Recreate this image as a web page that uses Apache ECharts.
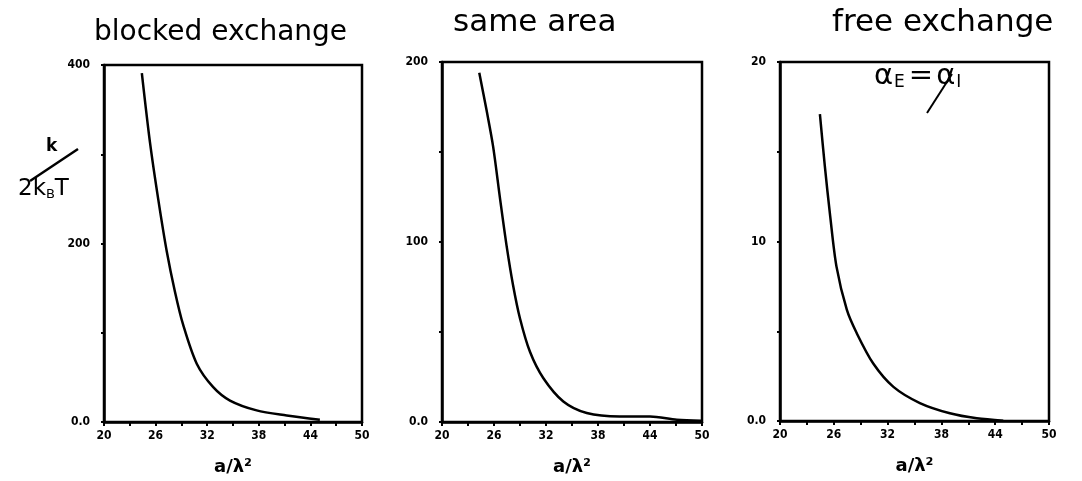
<!DOCTYPE html>
<html>
<head>
    <meta charset="UTF-8">
    <title>Exchange curves</title>
    <script src="https://cdn.jsdelivr.net/npm/echarts@6/dist/echarts.min.js"></script>
    <style>
        body { margin: 0; background: #fff; }
        #chart { width: 1082px; height: 481px; }
    </style>
</head>
<body>
    <div id="chart"></div>
    <script>
        // panel titles
        const panelTitles = ['blocked exchange', 'same area', 'free exchange'];

        // x axis: a/lambda^2
        const xTicks = [20, 23, 26, 29, 32, 35, 38, 41, 44, 47, 50];
        const xLabels = [20, 26, 32, 38, 44, 50];

        // y axis ticks per panel
        const yTicksBlocked = [0, 100, 200, 300, 400];
        const yLabelsBlocked = [0, 200, 400];
        const yTicksSame = [0, 50, 100, 150, 200];
        const yLabelsSame = [0, 100, 200];
        const yTicksFree = [0, 5, 10, 15, 20];
        const yLabelsFree = [0, 10, 20];

        // curves
        const xBlocked = [24.4, 25.35, 26.3, 27.3, 28.25, 29.2, 30.8, 32.7, 34.65, 37.75, 41.25, 45.1];
        const yBlocked = [391, 313, 250, 191, 146, 109, 65, 39, 24, 13, 7.4, 2.5];

        const xSame = [24.3, 25.15, 25.9, 26.7, 27.45, 28.2, 29.0, 30.15, 31.7, 34.0, 36.7, 40.5, 44.0, 47.1, 49.9];
        const ySame = [194, 173, 153, 124, 98, 76, 57.5, 39, 24.3, 11.4, 5, 3.1, 3.1, 1.3, 0.7];

        const xFree = [24.45, 25.0, 25.6, 26.3, 27.45, 28.55, 30.4, 32.65, 35.6, 38.95, 41.95, 44.9];
        const yFree = [17.1, 14.2, 11.4, 8.6, 6.2, 4.9, 3.2, 1.9, 1.0, 0.43, 0.15, 0.02];

        const grids = [
            { left: 104, top: 65, width: 258, height: 360 },
            { left: 442, top: 62, width: 260, height: 362 },
            { left: 780, top: 62, width: 269, height: 359 }
        ];
        const yTicks = [yTicksBlocked, yTicksSame, yTicksFree];
        const yLabels = [yLabelsBlocked, yLabelsSame, yLabelsFree];
        const xs = [xBlocked, xSame, xFree];
        const ys = [yBlocked, ySame, yFree];

        const tickFont = {
            fontFamily: 'DejaVu Sans Condensed',
            fontWeight: 'bold',
            fontSize: 12,
            color: '#000'
        };
        const hand = (size) => ({ fontFamily: 'DejaVu Sans', fontWeight: 'normal', fontSize: size, color: '#000' });

        const chart = echarts.init(document.getElementById('chart'));
        const option = {
            animation: false,
            backgroundColor: '#fff',
            title: [
                { text: panelTitles[0], left: 89, top: 14, textStyle: hand(28) },
                { text: panelTitles[1], left: 448, top: 2, textStyle: hand(31) },
                { text: panelTitles[2], left: 827, top: 2, textStyle: hand(31) }
            ],
            grid: grids.map(g => Object.assign({
                show: true, borderColor: '#000', borderWidth: 2.5, backgroundColor: 'transparent'
            }, g)),
            xAxis: grids.map((g, i) => ({
                type: 'value',
                gridIndex: i,
                min: 20,
                max: 50,
                name: 'a/λ²',
                nameLocation: 'middle',
                nameGap: 36,
                nameTextStyle: { fontFamily: 'DejaVu Sans', fontWeight: 'bold', fontSize: 18, color: '#000' },
                axisLine: { lineStyle: { color: '#000', width: 2.5 } },
                axisTick: { show: true, length: 4, lineStyle: { color: '#000', width: 2 }, customValues: xTicks },
                axisLabel: Object.assign({ margin: 8, customValues: xLabels }, tickFont),
                splitLine: { show: false }
            })),
            yAxis: grids.map((g, i) => ({
                type: 'value',
                gridIndex: i,
                min: 0,
                max: yTicks[i][yTicks[i].length - 1],
                axisLine: { show: true, lineStyle: { color: '#000', width: 2.5 } },
                axisTick: { show: true, length: 3, lineStyle: { color: '#000', width: 2 }, customValues: yTicks[i] },
                axisLabel: Object.assign({
                    margin: 14,
                    customValues: yLabels[i],
                    formatter: v => v === 0 ? '0.0' : String(v)
                }, tickFont),
                splitLine: { show: false }
            })),
            series: xs.map((xv, i) => ({
                type: 'line',
                xAxisIndex: i,
                yAxisIndex: i,
                smooth: 0.3,
                symbol: 'none',
                lineStyle: { color: '#000', width: 2.5 },
                data: xv.map((x, j) => [x, ys[i][j]])
            })),
            graphic: [
                // handwritten y label on the first panel: k / 2kBT
                { type: 'text', left: 46, top: 138, style: { text: 'k', font: 'bold 17px DejaVu Sans', fill: '#000' } },
                { type: 'line', shape: { x1: 30, y1: 181, x2: 78, y2: 149 }, style: { stroke: '#000', lineWidth: 2.5 } },
                {
                    type: 'text', left: 18, top: 178,
                    style: {
                        text: '{n|2k}{s|B}{n|T}',
                        rich: {
                            n: { font: '23px DejaVu Sans', fill: '#000' },
                            s: { font: '13px DejaVu Sans', fill: '#000', padding: [10, 0, 0, 0] }
                        }
                    }
                },
                // note in the third panel
                {
                    type: 'text', left: 874, top: 62,
                    style: {
                        text: '{n|α}{s|E}{e|=}{n|α}{s|I}',
                        rich: {
                            n: { font: '29px DejaVu Sans', fill: '#000' },
                            e: { font: '29px DejaVu Sans', fill: '#000', padding: [0, 3, 0, 4] },
                            s: { font: '17px DejaVu Sans', fill: '#000', padding: [12, 0, 0, 1] }
                        }
                    }
                },
                { type: 'line', shape: { x1: 927, y1: 113, x2: 952, y2: 74 }, style: { stroke: '#000', lineWidth: 2 } }
            ]
        };
        chart.setOption(option);
    </script>
</body>
</html>
